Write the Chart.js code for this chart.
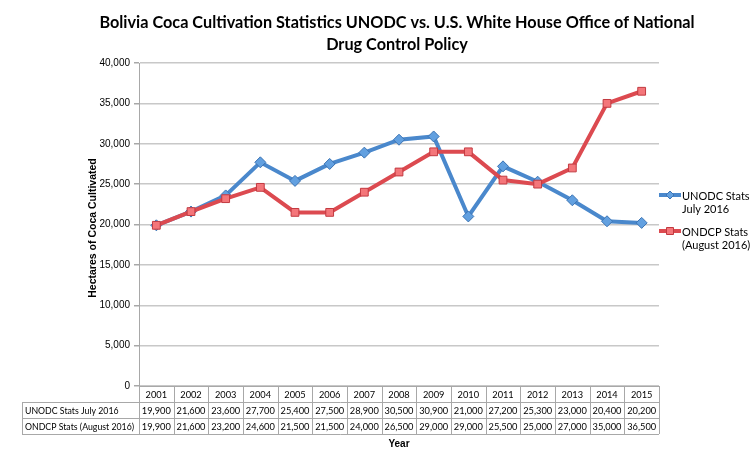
<!DOCTYPE html>
<html>
<head>
<meta charset="utf-8">
<script src="https://cdn.jsdelivr.net/npm/chart.js@4"></script>
<style>
html,body{margin:0;padding:0;background:#fff;}
#wrap{width:753px;height:457px;position:relative;}
</style>
</head>
<body>
<div id="wrap"><canvas id="c" width="753" height="457"></canvas></div>
<script>
const titleLines = ["Bolivia Coca Cultivation Statistics UNODC vs. U.S. White House Office of National", "Drug Control Policy"];
const years = ["2001","2002","2003","2004","2005","2006","2007","2008","2009","2010","2011","2012","2013","2014","2015"];
const unodcLabel = "UNODC Stats July 2016";
const ondcpLabel = "ONDCP Stats (August 2016)";
const unodcLegend = ["UNODC Stats", "July 2016"];
const ondcpLegend = ["ONDCP Stats", "(August 2016)"];
const unodc = [19900, 21600, 23600, 27700, 25400, 27500, 28900, 30500, 30900, 21000, 27200, 25300, 23000, 20400, 20200];
const ondcp = [19900, 21600, 23200, 24600, 21500, 21500, 24000, 26500, 29000, 29000, 25500, 25000, 27000, 35000, 36500];
const yTitle = "Hectares of Coca Cultivated";
const xTitle = "Year";

const BLUE = '#4a88cc', BLUE_FILL = '#62a0e0', BLUE_EDGE = '#3c74b4';
const RED = '#dc4a50', RED_FILL = '#f4767a', RED_EDGE = '#c23a40';
const FONT = '"Liberation Sans", Arial, sans-serif';
const fmt = v => v.toLocaleString('en-US');

function fitFont(ctx, text, maxW, size, weight, family) {
  let s = size;
  ctx.font = weight + ' ' + s + 'px ' + family;
  while (ctx.measureText(text).width > maxW && s > 6) {
    s -= 0.25;
    ctx.font = weight + ' ' + s + 'px ' + family;
  }
  return s;
}

const extras = {
  id: 'extras',
  beforeDraw(chart) {
    const ctx = chart.ctx;
    ctx.save();
    ctx.fillStyle = '#fff';
    ctx.fillRect(0, 0, chart.width, chart.height);
    ctx.restore();
  },
  afterDraw(chart) {
    const ctx = chart.ctx;
    const area = chart.chartArea;
    const xs = chart.scales.x;
    ctx.save();
    // title
    ctx.fillStyle = '#000';
    ctx.textAlign = 'center';
    ctx.textBaseline = 'middle';
    fitFont(ctx, titleLines[0], 598, 17, 'bold', 'Lato, ' + FONT);
    ctx.fillText(titleLines[0], 397, 23);
    ctx.fillText(titleLines[1], 397, 45);
    // y title
    ctx.save();
    ctx.translate(93, 228);
    ctx.rotate(-Math.PI / 2);
    fitFont(ctx, yTitle, 140, 11, 'bold', FONT);
    ctx.fillText(yTitle, 0, 0);
    ctx.restore();
    // table
    const n = years.length;
    const cw = (area.right - area.left) / n;
    const rowTop = [area.bottom, 402, 418, 434];
    ctx.strokeStyle = '#a8a8a8';
    ctx.lineWidth = 1;
    ctx.beginPath();
    ctx.moveTo(area.left, rowTop[0] + 0.5); ctx.lineTo(area.right, rowTop[0] + 0.5);
    for (let r = 1; r < 4; r++) {
      ctx.moveTo(22, rowTop[r] + 0.5); ctx.lineTo(area.right, rowTop[r] + 0.5);
    }
    for (let i = 0; i <= n; i++) {
      const x = Math.round(area.left + i * cw) + 0.5;
      ctx.moveTo(x, rowTop[0]); ctx.lineTo(x, rowTop[3]);
    }
    ctx.moveTo(22.5, rowTop[1]); ctx.lineTo(22.5, rowTop[3]);
    ctx.stroke();
    const tFam = 'Lato, ' + FONT;
    const s1 = fitFont(ctx, ondcpLabel, 111, 11, '', tFam);
    const s2 = fitFont(ctx, '30,900', 29, 11, '', tFam);
    ctx.fillStyle = '#000';
    ctx.font = s2 + 'px ' + tFam;
    ctx.textAlign = 'center';
    for (let i = 0; i < n; i++) {
      const cx = xs.getPixelForValue(i);
      ctx.fillText(years[i], cx, (rowTop[0] + rowTop[1]) / 2 + 1);
      ctx.fillText(fmt(unodc[i]), cx, (rowTop[1] + rowTop[2]) / 2 + 1);
      ctx.fillText(fmt(ondcp[i]), cx, (rowTop[2] + rowTop[3]) / 2 + 1);
    }
    ctx.textAlign = 'left';
    ctx.font = s1 + 'px ' + tFam;
    ctx.fillText(unodcLabel, 25, (rowTop[1] + rowTop[2]) / 2 + 1);
    ctx.fillText(ondcpLabel, 25, (rowTop[2] + rowTop[3]) / 2 + 1);
    // x title
    ctx.textAlign = 'center';
    ctx.font = 'bold 10px ' + FONT;
    ctx.fillText(xTitle, 399, 444);
    // legend
    const drawItem = (y, color, fill, edge, style, lines) => {
      ctx.strokeStyle = color;
      ctx.lineWidth = 4;
      ctx.beginPath();
      ctx.moveTo(659, y); ctx.lineTo(681, y);
      ctx.stroke();
      ctx.fillStyle = fill;
      ctx.strokeStyle = edge;
      ctx.lineWidth = 1;
      ctx.beginPath();
      if (style === 'rectRot') {
        ctx.moveTo(670, y - 4); ctx.lineTo(674, y); ctx.lineTo(670, y + 4); ctx.lineTo(666, y); ctx.closePath();
      } else {
        ctx.rect(666.5, y - 3.5, 7, 7);
      }
      ctx.fill(); ctx.stroke();
      ctx.fillStyle = '#000';
      ctx.textAlign = 'left';
      ctx.font = '11px Lato, ' + FONT;
      ctx.fillText(lines[0], 682, y + 1);
      ctx.fillText(lines[1], 682, y + 14);
    };
    drawItem(195, BLUE, BLUE_FILL, BLUE_EDGE, 'rectRot', unodcLegend);
    drawItem(231, RED, RED_FILL, RED_EDGE, 'rect', ondcpLegend);
    ctx.restore();
  }
};

new Chart(document.getElementById('c'), {
  type: 'line',
  data: {
    labels: years,
    datasets: [
      {
        label: unodcLabel,
        data: unodc,
        borderColor: BLUE,
        borderWidth: 4,
        pointStyle: 'rectRot',
        pointRadius: 5.5,
        pointBackgroundColor: BLUE_FILL,
        pointBorderColor: BLUE_EDGE,
        pointBorderWidth: 1,
        tension: 0,
        order: 1
      },
      {
        label: ondcpLabel,
        data: ondcp,
        borderColor: RED,
        borderWidth: 4,
        pointStyle: 'rect',
        pointRadius: 5.5,
        pointBackgroundColor: RED_FILL,
        pointBorderColor: RED_EDGE,
        pointBorderWidth: 1,
        tension: 0,
        order: 0
      }
    ]
  },
  options: {
    responsive: false,
    animation: false,
    devicePixelRatio: 1,
    layout: { padding: { left: 0, right: 94, top: 63, bottom: 71 } },
    plugins: { legend: { display: false }, title: { display: false }, tooltip: { enabled: false } },
    scales: {
      x: { display: false, offset: true },
      y: {
        min: 0, max: 40000,
        afterFit(scale) { scale.width = 139; },
        ticks: {
          stepSize: 5000,
          color: '#000',
          padding: 4,
          font: { size: 10, family: FONT },
          callback: v => fmt(v)
        },
        grid: { color: '#c8c8c8', lineWidth: 1.5, tickLength: 5, tickColor: '#a8a8a8' },
        border: { color: '#a8a8a8', width: 1 }
      }
    }
  },
  plugins: [extras]
});
</script>
</body>
</html>
